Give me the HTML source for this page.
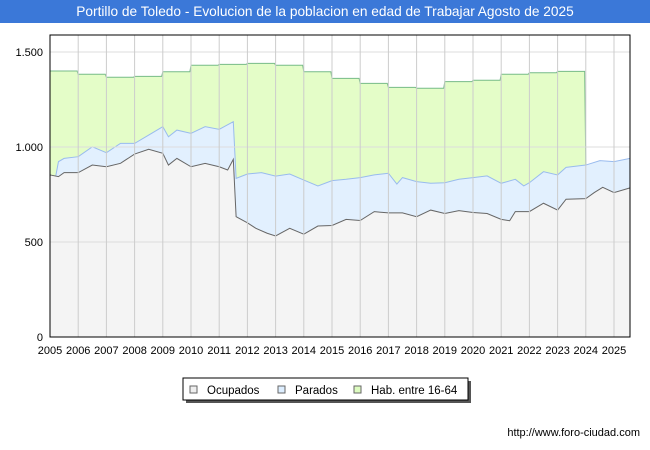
<!DOCTYPE html>
<html><head><meta charset="utf-8"><style>
body{margin:0;width:650px;height:450px;background:#fff;font-family:"Liberation Sans",sans-serif;overflow:hidden;position:relative}
#title{position:absolute;left:0;top:0;width:650px;height:23px;background:#3b78d8;color:#fff;font-size:13.7px;line-height:23px;text-align:center}
#url{position:absolute;right:10px;top:427px;font-size:11px;color:#000}
</style></head><body>
<div id="title">Portillo de Toledo - Evolucion de la poblacion en edad de Trabajar Agosto de 2025</div>
<svg id="chart" width="650" height="450" style="position:absolute;left:0;top:0"></svg>
<div id="url">http://www.foro-ciudad.com</div>
<script>
const habYears=[2005,2006,2007,2008,2009,2010,2011,2012,2013,2014,2015,2016,2017,2018,2019,2020,2021,2022,2023];
const habVals=[1400,1383,1367,1372,1396,1430,1435,1440,1430,1396,1361,1335,1314,1309,1344,1351,1383,1391,1398];
const occTimes=[2005,2005.3,2005.5,2006,2006.5,2007,2007.5,2008,2008.5,2009,2009.2,2009.5,2010,2010.5,2011,2011.3,2011.5,2011.6,2012,2012.3,2012.7,2013,2013.5,2014,2014.5,2015,2015.5,2016,2016.5,2017,2017.5,2018,2018.5,2019,2019.5,2020,2020.5,2021,2021.3,2021.5,2022,2022.5,2023,2023.3,2024,2024.3,2024.6,2025,2025.57];
const occVals=[853,844,865,865,905,896,914,963,988,967,905,940,896,914,896,879,935,633,601,572,546,532,572,541,584,587,619,613,660,653,653,633,668,650,665,655,650,619,612,660,660,704,668,725,728,760,788,760,785];
const totTimes=[2005,2005.2,2005.3,2005.5,2006,2006.5,2007,2007.5,2008,2008.5,2009,2009.2,2009.5,2010,2010.5,2011,2011.5,2011.6,2012,2012.5,2013,2013.5,2014,2014.5,2015,2015.5,2016,2016.5,2017,2017.3,2017.5,2018,2018.5,2019,2019.5,2020,2020.5,2021,2021.5,2021.8,2022,2022.5,2023,2023.3,2024,2024.5,2025,2025.57];
const totVals=[853,844,923,940,949,1001,970,1019,1019,1063,1107,1054,1089,1072,1107,1093,1133,835,858,865,847,858,826,795,823,830,839,853,862,805,839,818,809,812,830,839,848,809,830,795,812,870,853,893,905,928,923,940];
const yTicks=[0,500,1000,1500];
const yLabels=["0","500","1.000","1.500"];
const xYears=[2005,2006,2007,2008,2009,2010,2011,2012,2013,2014,2015,2016,2017,2018,2019,2020,2021,2022,2023,2024,2025];

const L=50,R=630,T=35,B=337;
const X=t=>L+(t-2005)*28.2;
const Y=v=>B-v*(B-52)/1500;
const svg=document.getElementById('chart');
const NS='http://www.w3.org/2000/svg';
function mk(tag,attrs,name){const e=document.createElementNS(NS,tag);for(const k in attrs)e.setAttribute(k,attrs[k]);


svg.appendChild(e);return e;}
mk('rect',{x:L,y:T,width:R-L,height:B-T,fill:'#fff'},'plot-area');
let hp=[];
habYears.forEach((y,i)=>{hp.push([X(y),Y(habVals[i])]);hp.push([X(y+0.96),Y(habVals[i])]);});
const lastT=totVals[totTimes.findIndex(t=>t>=2024)];
hp.push([X(2024),Y(lastT)]);
const habStr=hp.map(p=>p.join(',')).join(' ');
mk('polygon',{points:habStr+` ${X(2024)},${B} ${X(2005)},${B}`,fill:'#e4fdc8'},'hab-area');
mk('polyline',{points:habStr,fill:'none',stroke:'#77bb88','stroke-width':1},'hab-line');
const totStr=totTimes.map((t,i)=>X(t)+','+Y(totVals[i])).join(' ');
mk('polygon',{points:totStr+` ${X(totTimes[totTimes.length-1])},${B} ${X(2005)},${B}`,fill:'#e2f0fe'},'parados-area');
mk('polyline',{points:totStr,fill:'none',stroke:'#99bbee','stroke-width':1},'parados-line');
const occStr=occTimes.map((t,i)=>X(t)+','+Y(occVals[i])).join(' ');
mk('polygon',{points:occStr+` ${X(occTimes[occTimes.length-1])},${B} ${X(2005)},${B}`,fill:'#f4f4f4'},'ocupados-area');
mk('polyline',{points:occStr,fill:'none',stroke:'#666','stroke-width':1},'ocupados-line');
yTicks.forEach((v,i)=>{if(v>0)mk('line',{x1:L,x2:R,y1:Y(v),y2:Y(v),stroke:'#ddd','stroke-width':1},'y-gridline');
const t=mk('text',{x:43,y:Y(v)+4,'text-anchor':'end','font-size':11,fill:'#000'},'y-tick-label');t.textContent=yLabels[i];});
xYears.forEach(y=>{if(y>2005)mk('line',{x1:X(y),x2:X(y),y1:T,y2:B,stroke:'#ccc','stroke-width':1},'x-gridline');
const t=mk('text',{x:X(y),y:354,'text-anchor':'middle','font-size':11,fill:'#000'},'x-tick-label');t.textContent=y;});
mk('rect',{x:L,y:T,width:R-L,height:B-T,fill:'none',stroke:'#000','stroke-width':1},'plot-border');
mk('rect',{x:186,y:381,width:285,height:22,fill:'#555'},'legend-shadow');
mk('rect',{x:183,y:378,width:285,height:22,fill:'#fff',stroke:'#000','stroke-width':1},'legend-box');
const lg=[['Ocupados','#eee',190],['Parados','#ddeeff',278],['Hab. entre 16-64','#ddfcc0',354]];
lg.forEach(l=>{mk('rect',{x:l[2],y:386,width:7,height:7,fill:l[1],stroke:'#666','stroke-width':1},'legend-swatch');
const t=mk('text',{x:l[2]+17,y:394,'font-size':11.5,fill:'#000'},'legend-entry');t.textContent=l[0];});
</script>
</body></html>
